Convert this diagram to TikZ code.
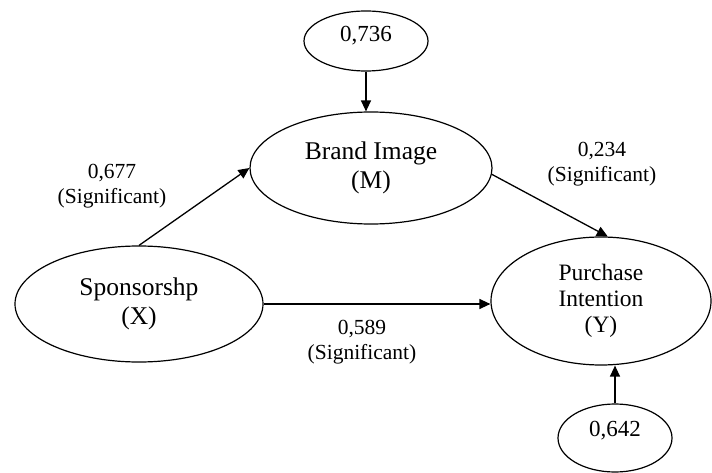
\documentclass[tikz,border=0pt]{standalone}
\usepackage{fontspec}
\setmainfont{Liberation Serif}
\usetikzlibrary{shapes.geometric,arrows.meta}
\begin{document}
\begin{tikzpicture}[x=1pt,y=-1pt,
  ell/.style={draw,ellipse,line width=1.2pt,inner sep=0pt,align=center},
  bigtxt/.style={font=\fontsize{25.5}{28.5}\selectfont},
  midtxt/.style={font=\fontsize{23.5}{26}\selectfont},
  smtxt/.style={font=\fontsize{23}{26}\selectfont},
  lbl/.style={align=center,inner sep=0pt,font=\fontsize{21.5}{24.5}\selectfont},
  conn/.style={line width=1.3pt,-{Triangle[length=11pt,width=10pt]}}]
\useasboundingbox (0,0) rectangle (712,473);
\node[ell,minimum width=124pt,minimum height=60pt] (T) at (366,41) {};
\node[smtxt] (Ttxt) at (366,36) {0,736};
\node[ell,bigtxt,minimum width=242pt,minimum height=112pt] (M) at (371,168) {Brand Image\\(M)};
\node[ell,bigtxt,minimum width=248pt,minimum height=116pt] (X) at (139,304) {Sponsorshp\\(X)};
\node[ell,midtxt,minimum width=220pt,minimum height=128pt] (Y) at (601,301) {Purchase\\Intention\\(Y)};
\node[ell,minimum width=114pt,minimum height=68pt] (B) at (615,438) {};
\node[smtxt] (Btxt) at (615,431) {0,642};
\node[lbl] (L1) at (112,186) {0,677\\(Significant)};
\node[lbl] (L2) at (602,164) {0,234\\(Significant)};
\node[lbl] (L3) at (362,342) {0,589\\(Significant)};
\draw[conn] (T.south) -- (T.south |- M.north);
\draw[conn] (X.north) -- (M.west);
\draw[conn] (M.-3) -- (Y.84);
\draw[conn] (X.east) -- (X.east -| Y.west);
\draw[conn] (B.north) -- (B.north |- Y.south);
\end{tikzpicture}
\end{document}
